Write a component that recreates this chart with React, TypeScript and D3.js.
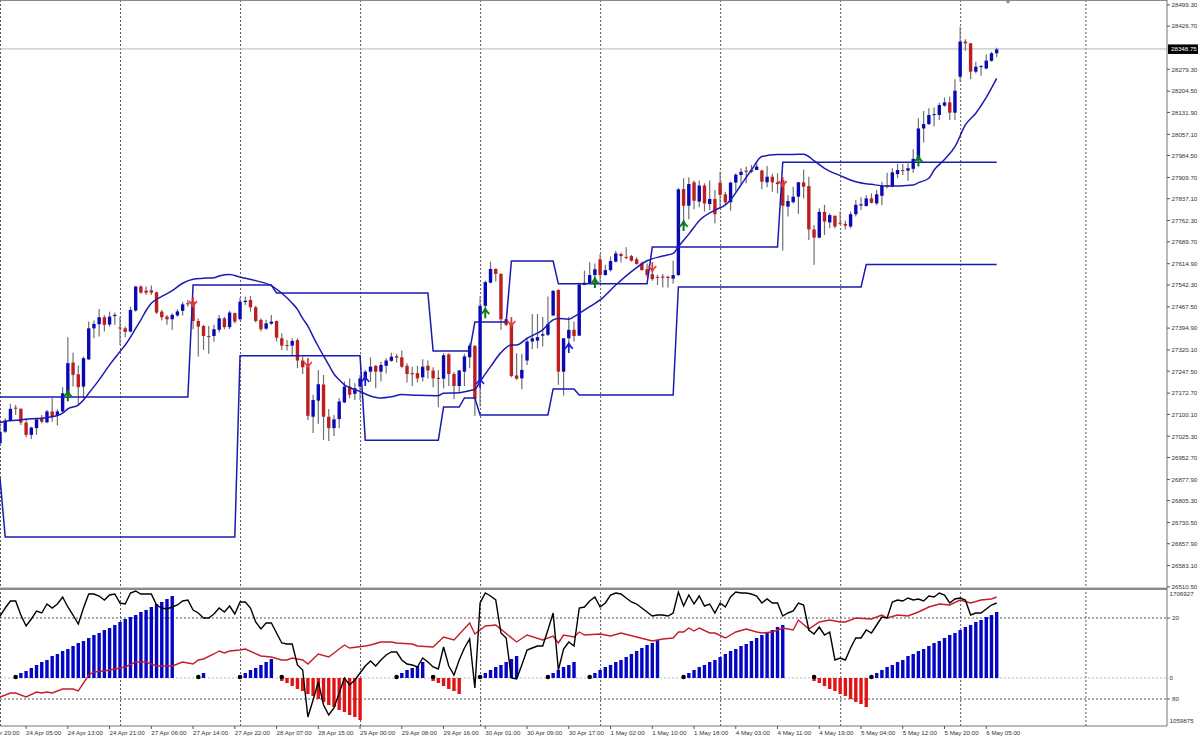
import * as d3 from 'd3'
import React from 'react'

// candles, one entry per bar (left to right)
const opens = [27001,27041,27079,27123,27119,27072,27030,27053,27087,27073,
27110,27095,27110,27172,27277,27237,27195,27288,27394,27408,
27432,27407,27436,27397,27394,27383,27455,27537,27523,27524,
27517,27451,27434,27425,27438,27454,27480,27485,27419,27402,
27368,27368,27389,27428,27398,27446,27425,27484,27491,27466,
27423,27393,27410,27419,27360,27337,27335,27354,27284,27263,
27092,27147,27202,27092,27053,27084,27141,27195,27170,27195,
27218,27246,27266,27246,27266,27283,27299,27295,27266,27241,
27241,27227,27266,27250,27225,27222,27305,27238,27197,27246,
27295,27334,27218,27471,27550,27597,27580,27425,27409,27233,
27223,27284,27349,27352,27369,27372,27438,27525,27246,27360,
27389,27369,27542,27548,27576,27630,27576,27593,27622,27648,
27638,27641,27630,27616,27596,27579,27570,27571,27570,27564,
27576,27870,27813,27893,27827,27882,27819,27836,27892,27852,
27825,27892,27918,27933,27935,27935,27933,27893,27912,27893,
27901,27810,27825,27844,27893,27880,27732,27704,27792,27756,
27779,27755,27751,27742,27784,27814,27812,27838,27821,27847,
27882,27878,27921,27935,27933,27939,27972,28077,28092,28123,
28123,28155,28166,28131,28254,28374,28368,28271,28287,28282,
28308,28334]
const closes = [27041,27079,27119,27120,27072,27030,27055,27083,27075,27110,
27092,27110,27172,27275,27235,27193,27292,27394,27409,27432,
27406,27434,27440,27394,27382,27457,27537,27516,27516,27516,
27448,27432,27425,27440,27452,27476,27476,27419,27400,27368,
27366,27391,27428,27398,27448,27417,27485,27488,27466,27419,
27391,27411,27417,27362,27335,27334,27351,27284,27261,27095,
27149,27203,27092,27053,27083,27144,27195,27167,27189,27223,
27246,27263,27246,27269,27284,27297,27294,27263,27238,27237,
27223,27263,27250,27223,27221,27302,27238,27197,27250,27298,
27335,27153,27471,27552,27597,27580,27425,27406,27231,27222,
27252,27349,27360,27364,27374,27408,27522,27246,27360,27389,
27368,27544,27550,27576,27596,27576,27593,27624,27650,27641,
27637,27625,27614,27593,27576,27562,27567,27567,27566,27576,
27869,27813,27887,27830,27882,27821,27836,27784,27850,27825,
27892,27919,27929,27929,27929,27947,27895,27912,27893,27887,
27813,27829,27844,27893,27878,27732,27704,27792,27759,27781,
27742,27753,27745,27784,27816,27818,27838,27823,27852,27882,
27878,27927,27935,27932,27941,27973,28077,28092,28123,28126,
28157,28166,28131,28206,28374,28368,28271,28288,28290,28309,
28334,28347]
const highs = [27070,27087,27136,27132,27121,27087,27058,27087,27098,27115,
27155,27118,27193,27364,27311,27267,27298,27417,27421,27460,
27440,27451,27448,27434,27400,27468,27539,27541,27537,27540,
27520,27457,27440,27446,27459,27485,27491,27500,27428,27406,
27402,27406,27440,27434,27454,27448,27499,27503,27505,27471,
27428,27423,27440,27421,27377,27354,27360,27360,27298,27275,
27167,27252,27235,27118,27098,27155,27212,27223,27206,27235,
27252,27295,27269,27280,27292,27311,27307,27318,27275,27263,
27266,27288,27284,27261,27252,27309,27309,27246,27252,27307,
27343,27337,27503,27557,27622,27599,27582,27428,27423,27309,
27307,27364,27443,27443,27434,27503,27525,27528,27360,27434,
27417,27551,27591,27620,27616,27648,27611,27639,27658,27653,
27671,27645,27637,27622,27616,27593,27576,27580,27575,27625,
27873,27907,27910,27899,27899,27890,27899,27867,27929,27861,
27895,27924,27941,27947,27952,27958,27937,27949,27922,27924,
27903,27850,27878,27895,27937,27912,27747,27804,27816,27787,
27779,27793,27762,27793,27833,27842,27850,27855,27867,27895,
27926,27941,27956,27956,27958,28006,28112,28137,28146,28149,
28165,28183,28186,28245,28423,28382,28370,28305,28294,28330,
28339,28353]
const lows = [26996,27036,27075,27098,27064,27022,27016,27030,27070,27070,
27075,27062,27106,27144,27195,27132,27155,27286,27360,27366,
27383,27400,27406,27337,27364,27380,27451,27512,27508,27508,
27443,27421,27406,27389,27434,27438,27468,27391,27298,27320,
27307,27349,27380,27391,27391,27411,27421,27474,27451,27414,
27383,27389,27406,27349,27320,27318,27300,27258,27238,27081,
27036,27067,27013,27009,27026,27053,27138,27155,27149,27149,
27206,27212,27189,27212,27240,27280,27277,27258,27209,27197,
27209,27212,27223,27193,27124,27189,27197,27153,27172,27197,
27258,27095,27127,27463,27548,27554,27389,27402,27227,27218,
27186,27269,27323,27326,27332,27368,27436,27201,27164,27345,
27349,27369,27542,27546,27554,27550,27575,27588,27619,27619,
27630,27622,27611,27591,27568,27557,27542,27534,27534,27546,
27573,27759,27767,27801,27808,27793,27798,27753,27804,27816,
27796,27861,27887,27890,27924,27935,27869,27876,27861,27855,
27660,27776,27821,27785,27838,27696,27611,27702,27713,27736,
27736,27747,27732,27736,27776,27798,27810,27821,27815,27815,
27872,27876,27907,27918,27898,27926,27946,28029,28089,28085,
28106,28151,28106,28106,28237,28343,28245,28265,28257,28279,
28305,28320]

// moving average, read at these bars
const maBars = [0,2,4,6,8,10,11,12,13,15,16,17,19,21,23,24,25,26,27,28,29,30,31,33,35,37,39,41,42,44,46,49,52,54,56,57,58,59,60,61,62,63,64,65,66,67,69,71,73,75,77,80,84,85,88,90,91,92,94,96,98,99,101,104,106,107,109,110,111,113,115,118,121,124,127,129,130,132,134,137,139,140,142,144,146,149,152,154,156,158,161,164,167,170,175,176,178,179,181,183,185,187,189,191]
const maValues = [27072,27079,27081,27085,27087,27092,27096,27104,27119,27132,27149,27172,27218,27269,27315,27337,27364,27394,27423,27455,27480,27493,27503,27523,27548,27562,27565,27567,27573,27578,27569,27557,27540,27514,27480,27459,27428,27402,27366,27332,27300,27269,27238,27218,27201,27192,27178,27163,27156,27160,27168,27165,27164,27172,27174,27181,27186,27212,27263,27311,27337,27337,27360,27389,27423,27428,27425,27434,27445,27468,27491,27542,27588,27625,27641,27650,27673,27716,27762,27798,27816,27833,27884,27935,27981,27988,27988,27989,27967,27941,27916,27895,27886,27880,27884,27892,27907,27935,27971,28015,28089,28129,28183,28248]

// the two stepped channel lines
const upperBars = [0,36,37,52,53,82,83,90,91,97,98,106,107,124,125,149,150,191]
const upperValues = [27159,27159,27542,27542,27515,27515,27317,27317,27416,27416,27624,27624,27546,27546,27672,27672,27962,27962]
const lowerBars = [0,1,45,46,69,70,84,85,88,89,91,92,105,106,110,111,129,130,165,166,191]
const lowerValues = [26883,26681,26681,27300,27300,27012,27012,27125,27125,27156,27156,27098,27098,27187,27187,27166,27166,27535,27535,27612,27612]

// signal arrows
const greenBars = [13,93,114,131,176]
const greenPrices = [27163,27446,27549,27744,27966]
const blueBars = [70,92,109]
const bluePrices = [27214,27207,27327]
const redArrowBars = [37,59,98,125,150]
const redArrowPrices = [27484,27276,27416,27604,27894]

// lower panel
const blackLine = [62,70,77,77,63,52,59,67,65,74,70,74,81,71,63,54,70,84,84,82,78,83,84,75,74,85,87,84,84,84,73,70,69,71,73,77,78,68,65,60,60,64,70,66,72,64,76,76,70,56,49,55,55,45,35,34,34,13,8,-39,-22,-4,-27,-37,-30,-15,0,-7,-2,5,12,17,12,18,23,26,26,
18,14,13,11,20,16,11,9,31,12,3,18,30,39,-10,75,85,82,78,45,40,0,-1,13,28,30,32,32,48,65,8,29,36,32,70,71,77,81,71,75,83,85,84,80,76,74,70,66,62,63,63,62,65,86,72,83,74,82,72,74,65,75,71,81,86,85,85,84,82,75,79,75,75,62,65,67,75,
73,48,44,51,43,46,18,20,18,30,40,40,48,45,53,61,60,76,78,77,80,78,79,77,82,81,85,83,75,79,80,78,63,65,65,69,73,75]
const redBars = [0,2,3,5,7,8,9,10,12,14,15,17,18,20,22,24,26,28,30,33,35,37,38,39,41,42,43,44,46,47,50,52,54,55,56,58,59,61,63,66,67,70,71,73,75,76,79,80,83,85,87,90,91,93,95,99,101,104,106,107,108,110,111,112,115,117,119,122,125,127,129,130,131,132,133,134,136,137,139,141,143,145,146,148,149,150,152,153,155,157,159,161,162,164,167,169,170,172,174,176,178,180,182,184,186,188,190,191]
const redValues = [-19,-15,-15,-19,-14,-15,-14,-15,-11,-11,-13,3,6,7,9,11,16,16,12,12,16,14,18,19,24,27,25,27,28,29,22,21,18,18,20,18,14,24,21,33,30,32,33,36,36,35,34,32,31,41,38,55,44,52,53,36,43,38,42,35,43,41,46,43,44,42,45,41,37,39,40,46,46,50,47,50,45,45,40,46,49,46,45,46,48,50,48,58,49,56,58,56,56,60,59,63,60,63,62,66,71,74,73,78,75,78,79,81]
const histStarts = [4,39,47,54,55,77,83,84,93,106,114,132,156,157,168]
const histRuns = [
  [5,7,10,13,16,18,22,24,27,29,32,35,37,40,43,45,48,50,53,56,59,61,63,66,68,71,74,76,79,82],
  [5],
  [5,8,10,13,16,19],
  [-3],
  [-5,-8,-11,-13,-16,-18,-21,-24,-27,-29,-32,-34,-37,-39,-42],
  [5,8,10,12,16],
  [-3],
  [-5,-8,-11,-13,-16],
  [5,8,11,13,16,19,22],
  [5,8,11,13,16],
  [5,8,11,13,16,18,21,24,27,30,33,35,38],
  [5,8,11,13,16,18,21,24,27,29,32,34,37,40,43,46,48,51,53],
  [-3],
  [-5,-8,-11,-13,-16,-18,-21,-24,-26,-29],
  [5,8,11,13,16,18,22,24,27,29,32,35,37,40,43,45,48,51,53,56,58,61,63,66],
]
const dotBars = [3,38,46,54,76,83,92,105,113,131,156,167]

// axes
const priceTicks = [28499.3,28426.7,28279.3,28204.5,28131.9,28057.1,27984.5,27909.7,27837.1,27762.3,27689.7,27614.9,27542.3,27467.5,27394.9,27320.1,27247.5,27172.7,27100.1,27025.3,26952.7,26877.9,26805.3,26730.5,26657.9,26583.1,26510.5]
const lastPrice = 28348.75
const gridBars = [0,23,46,69,92,115,138,161,184,208]
const timeLabels = ['23 Apr 20:00','24 Apr 05:00','24 Apr 13:00','24 Apr 21:00','27 Apr 06:00','27 Apr 14:00','27 Apr 22:00','28 Apr 07:00','28 Apr 15:00','29 Apr 00:00','29 Apr 08:00','29 Apr 16:00','30 Apr 01:00','30 Apr 09:00','30 Apr 17:00','1 May 02:00','1 May 10:00','1 May 18:00','4 May 03:00','4 May 11:00','4 May 19:00','5 May 04:00','5 May 12:00','5 May 20:00','6 May 05:00']
const timeLabelBars = timeLabels.map((_, i) => -3 + i * 8)
const levels = [60, -21]
const levelLabels = ['20', '80']
const panelMax = '1706927'
const panelMin = '1059875'

const W = 1200, H = 740
const axisX = 1167, panelTop = 590, panelBottom = 726
const font = '"Liberation Sans", Arial, sans-serif'
const blue = '#0a0ab4', red = '#bd1f1f', lineBlue = '#1a1ab4'

const x = d3.scaleLinear().domain([0, 191]).range([0, 996.7])
const y = d3.scaleLinear().domain([26510.5, 28516]).range([586.9, 0])
const yp = d3.scaleLinear().domain([-43, 84]).range([721, 594])
const lineXY = d3.line<[number, number]>().x(d => x(d[0])).y(d => y(d[1]))
const lineSmooth = d3.line<[number, number]>().x(d => x(d[0])).y(d => y(d[1])).curve(d3.curveMonotoneX)
const linePanel = d3.line<[number, number]>().x(d => x(d[0])).y(d => yp(d[1]))
const zip = (a: number[], b: number[]) => a.map((v, i) => [v, b[i]] as [number, number])
const arrowUp = 'M0,5L0,-3.5M-4,0.8Q-1.6,-1 0,-4.5Q1.6,-1 4,0.8'

const App = () => {
  return (
    <svg width={W} height={H} style={{ position: 'absolute', left: 0, top: 0, background: '#fff' }}>
      {/* grid */}
      {gridBars.map(b => (
        <line key={b} x1={x(b) + 0.5} x2={x(b) + 0.5} y1={0} y2={panelBottom} stroke="#444" strokeWidth={0.9} strokeDasharray="2 2" />
      ))}
      <line x1={0} x2={axisX} y1={yp(0)} y2={yp(0)} stroke="#aaa" strokeWidth={0.8} strokeDasharray="2 2" />
      {levels.map(l => (
        <line key={l} x1={0} x2={axisX} y1={yp(l)} y2={yp(l)} stroke="#444" strokeWidth={0.9} strokeDasharray="2 2" />
      ))}

      <line x1={0} x2={axisX} y1={y(lastPrice)} y2={y(lastPrice)} stroke="#b4b4b4" />

      {/* candles */}
      {opens.map((o, i) => (
        <line key={i} x1={x(i)} x2={x(i)} y1={y(highs[i])} y2={y(lows[i])} stroke="#707070" strokeWidth={1.2} />
      ))}
      {opens.map((o, i) => {
        const c = closes[i]
        return (
          <rect key={i} x={x(i) - 1.7} width={3.4} y={y(Math.max(o, c))} height={Math.max(1, Math.abs(y(o) - y(c)))} fill={c >= o ? blue : red} />
        )
      })}

      {/* indicator lines */}
      <path d={lineXY(zip(upperBars, upperValues)) as string} fill="none" stroke={lineBlue} strokeWidth={1.5} />
      <path d={lineXY(zip(lowerBars, lowerValues)) as string} fill="none" stroke={lineBlue} strokeWidth={1.5} />
      <path d={lineSmooth(zip(maBars, maValues)) as string} fill="none" stroke={lineBlue} strokeWidth={1.5} />

      {/* arrows */}
      {greenBars.map((b, i) => (
        <path key={b} d={arrowUp} transform={`translate(${x(b)} ${y(greenPrices[i])})`} fill="none" stroke="#0c7a1c" strokeWidth={2} />
      ))}
      {blueBars.map((b, i) => (
        <path key={b} d={arrowUp} transform={`translate(${x(b)} ${y(bluePrices[i])})`} fill="none" stroke="#1a1ad2" strokeWidth={1.7} />
      ))}
      {redArrowBars.map((b, i) => (
        <path key={b} d={arrowUp} transform={`translate(${x(b)} ${y(redArrowPrices[i])}) scale(1 -1)`} fill="none" stroke="#e23b3b" strokeWidth={1.7} />
      ))}

      {/* lower panel */}
      <rect x={0} y={panelTop - 2.4} width={axisX} height={2.4} fill="#8a8a8a" />
      {histRuns.map((run, r) => run.map((v, i) => {
        const b = histStarts[r] + i
        return (
          <rect key={`${r}-${i}`} x={x(b) - 1.7} width={3.4} y={Math.min(yp(v), yp(0))} height={Math.abs(yp(v) - yp(0))} fill={v > 0 ? '#0505c4' : '#e01414'} />
        )
      }))}
      {dotBars.map(b => (
        <circle key={b} cx={x(b)} cy={yp(0) - 1} r={2.3} fill="#000" />
      ))}
      <path d={linePanel(zip(redBars, redValues)) as string} fill="none" stroke="#c41e28" strokeWidth={1.4} />
      <path d={linePanel(blackLine.map((v, i) => [i, v] as [number, number])) as string} fill="none" stroke="#000" strokeWidth={1.4} />

      {/* frame */}
      <line x1={0} x2={axisX} y1={0.5} y2={0.5} stroke="#8a8a8a" />
      <line x1={axisX} x2={axisX} y1={0} y2={panelBottom} stroke="#777" />
      <line x1={0} x2={axisX} y1={panelBottom} y2={panelBottom} stroke="#777" />
      <path d="M1005,0L1011,0L1008,4Z" fill="#8c8c8c" />

      {/* right axis */}
      <g fontFamily={font} fontSize={6.2} fill="#333">
        {priceTicks.map(p => (
          <g key={p}>
            <line x1={axisX} x2={axisX + 3} y1={y(p)} y2={y(p)} stroke="#555" />
            <text x={axisX + 4.5} y={y(p) + 2.3}>{p.toFixed(2)}</text>
          </g>
        ))}
        <rect x={axisX + 1} y={y(lastPrice) - 4.5} width={30} height={9.5} fill="#000" />
        <text x={axisX + 4} y={y(lastPrice) + 2.4} fill="#fff">{lastPrice.toFixed(2)}</text>
        <text x={axisX + 2.5} y={yp(84) + 2.3}>{panelMax}</text>
        <text x={axisX + 2.5} y={yp(-43) + 2.3}>{panelMin}</text>
        <text x={axisX + 2.5} y={yp(0) + 2.3}>0</text>
        {levels.map((l, i) => (
          <g key={l}>
            <line x1={axisX} x2={axisX + 3} y1={yp(l)} y2={yp(l)} stroke="#555" />
            <text x={axisX + 5} y={yp(l) + 2.3}>{levelLabels[i]}</text>
          </g>
        ))}
        {timeLabels.map((t, i) => (
          <g key={t}>
            <line x1={x(timeLabelBars[i])} x2={x(timeLabelBars[i])} y1={panelBottom} y2={panelBottom + 3} stroke="#555" />
            <text x={x(timeLabelBars[i])} y={735}>{t}</text>
          </g>
        ))}
      </g>
    </svg>
  )
}

export default App
